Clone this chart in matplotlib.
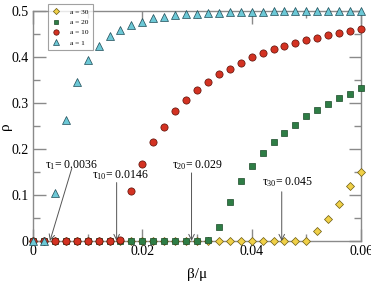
import matplotlib
matplotlib.use("Agg")
import matplotlib.pyplot as plt
from matplotlib.ticker import MultipleLocator, FixedLocator

plt.rcParams['font.family'] = ['Liberation Serif', 'DejaVu Serif']
plt.rcParams['mathtext.fontset'] = 'custom'
plt.rcParams['mathtext.rm'] = 'Liberation Serif'
plt.rcParams['mathtext.it'] = 'Liberation Serif'

beta = [0.000, 0.002, 0.004, 0.006, 0.008, 0.010, 0.012, 0.014, 0.016, 0.018,
        0.020, 0.022, 0.024, 0.026, 0.028, 0.030, 0.032, 0.034, 0.036, 0.038,
        0.040, 0.042, 0.044, 0.046, 0.048, 0.050, 0.052, 0.054, 0.056, 0.058, 0.060]

rho_a1 = [0.0, 0.0, 0.104, 0.263, 0.346, 0.393, 0.424, 0.446, 0.459, 0.470,
          0.477, 0.484, 0.488, 0.491, 0.493, 0.494, 0.495, 0.496, 0.497, 0.497,
          0.498, 0.498, 0.499, 0.499, 0.499, 0.499, 0.500, 0.500, 0.500, 0.500, 0.500]
rho_a10 = [0.0, 0.0, 0.0, 0.0, 0.0, 0.0, 0.0, 0.0, 0.003, 0.108,
           0.168, 0.216, 0.248, 0.282, 0.307, 0.328, 0.346, 0.364, 0.375, 0.388,
           0.399, 0.409, 0.417, 0.425, 0.430, 0.436, 0.442, 0.447, 0.452, 0.457, 0.461]
rho_a20 = [0.0, 0.0, 0.0, 0.0, 0.0, 0.0, 0.0, 0.0, 0.0, 0.0,
           0.0, 0.0, 0.0, 0.0, 0.0, 0.0, 0.0015, 0.030, 0.084, 0.130,
           0.163, 0.191, 0.215, 0.235, 0.253, 0.272, 0.285, 0.298, 0.310, 0.319, 0.332]
rho_a30 = [0.0, 0.0, 0.0, 0.0, 0.0, 0.0, 0.0, 0.0, 0.0, 0.0,
           0.0, 0.0, 0.0, 0.0, 0.0, 0.0, 0.0, 0.0, 0.0, 0.0,
           0.0, 0.0, 0.0, 0.0, 0.0, 0.001, 0.021, 0.048, 0.080, 0.120, 0.150]

x_ticks = [0, 0.02, 0.04, 0.06]
x_ticklabels = ['0', '0.02', '0.04', '0.06']
y_ticks = [0, 0.1, 0.2, 0.3, 0.4, 0.5]
y_ticklabels = ['0', '0.1', '0.2', '0.3', '0.4', '0.5']

labels = ['a = 30', 'a = 20', 'a = 10', 'a = 1']

fig = plt.figure(figsize=(3.71, 2.84), dpi=100)
ax = fig.add_axes([33/371, 1 - 241/284, 328/371, 230/284])

ax.plot(beta, rho_a30, linestyle='none', marker='D', ms=4.2, mfc='#f0d048', mec='#6b5a10', mew=0.5, label=labels[0], clip_on=False, zorder=3)
ax.plot(beta, rho_a20, linestyle='none', marker='s', ms=4.6, mfc='#2e7d45', mec='#1a4a28', mew=0.5, label=labels[1], clip_on=False, zorder=4)
ax.plot(beta, rho_a10, linestyle='none', marker='o', ms=5.2, mfc='#d33222', mec='#5a1008', mew=0.5, label=labels[2], clip_on=False, zorder=5)
ax.plot(beta, rho_a1, linestyle='none', marker='^', ms=5.4, mfc='#6cc8d6', mec='#1d4a55', mew=0.5, label=labels[3], clip_on=False, zorder=6)

ax.set_xlim(0, 0.06)
ax.set_ylim(0, 0.5)
ax.xaxis.set_major_locator(FixedLocator(x_ticks))
ax.set_xticklabels(x_ticklabels)
ax.yaxis.set_major_locator(FixedLocator(y_ticks))
ax.set_yticklabels(y_ticklabels)
ax.xaxis.set_minor_locator(MultipleLocator(0.01))
ax.yaxis.set_minor_locator(MultipleLocator(0.05))

gray = '#8a8a8a'
for s in ax.spines.values():
    s.set_color(gray)
    s.set_linewidth(1.0)
ax.tick_params(which='both', direction='in', top=True, right=True, color=gray, labelsize=10, width=1.0)
ax.tick_params(which='major', length=9, pad=3)
ax.tick_params(which='minor', length=5)

ax.set_xlabel('β/μ', fontsize=11, labelpad=7)
ax.set_ylabel('ρ', fontsize=11)
ax.yaxis.label.set_va('center')
ax.yaxis.set_label_coords(-0.083, 0.5)

leg = ax.legend(loc='upper left', bbox_to_anchor=(0.033, 1.045), fontsize=5.3, frameon=True,
                fancybox=False, edgecolor=gray, handlelength=1.2, handletextpad=1.2,
                borderpad=0.6, labelspacing=0.55, markerscale=0.75)
leg.get_frame().set_linewidth(0.8)
leg.set_zorder(10)

afs = 8.5
acol = '#555555'
ax.text(0.0022, 0.166, r'$\mathrm{\tau_{1}}$= 0.0036', fontsize=afs, ha='left', va='center')
ax.annotate('', xy=(0.0031, 0.0), xytext=(0.0071, 0.158),
            arrowprops=dict(arrowstyle='->', color=acol, lw=0.7, shrinkA=0, shrinkB=0))
ax.text(0.0108, 0.143, r'$\mathrm{\tau_{10}}$= 0.0146', fontsize=afs, ha='left', va='center')
ax.annotate('', xy=(0.0153, 0.0), xytext=(0.0153, 0.127),
            arrowprops=dict(arrowstyle='->', color=acol, lw=0.7, shrinkA=0, shrinkB=0))
ax.text(0.0254, 0.166, r'$\mathrm{\tau_{20}}$= 0.029', fontsize=afs, ha='left', va='center')
ax.annotate('', xy=(0.029, 0.0), xytext=(0.029, 0.148),
            arrowprops=dict(arrowstyle='->', color=acol, lw=0.7, shrinkA=0, shrinkB=0))
ax.text(0.0418, 0.127, r'$\mathrm{\tau_{30}}$= 0.045', fontsize=afs, ha='left', va='center')
ax.annotate('', xy=(0.0455, 0.0), xytext=(0.0455, 0.107),
            arrowprops=dict(arrowstyle='->', color=acol, lw=0.7, shrinkA=0, shrinkB=0))

fig.savefig('out.png', dpi=100)
